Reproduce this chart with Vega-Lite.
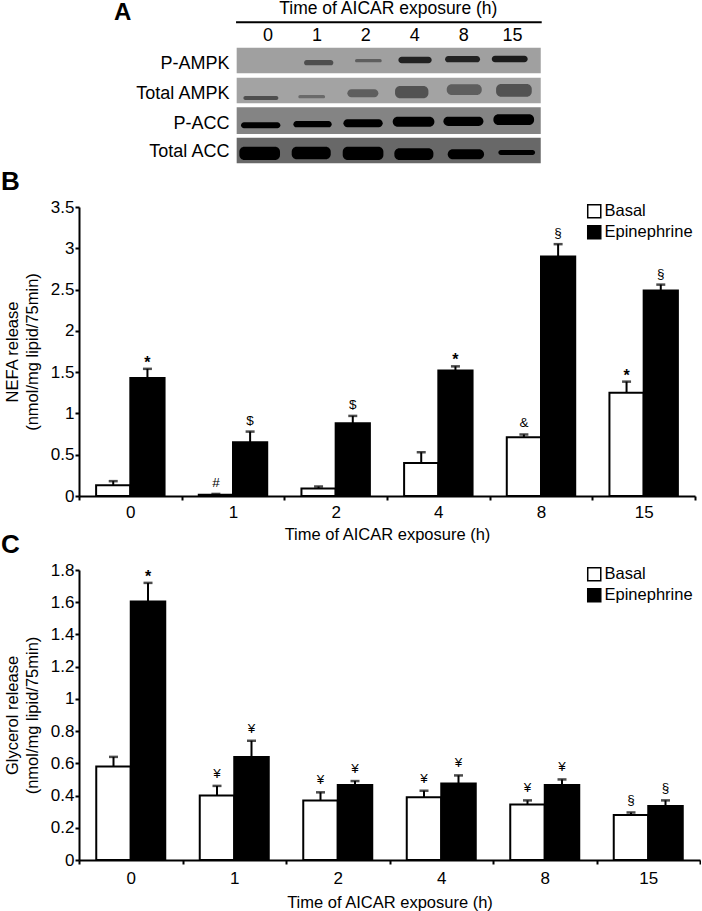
{"$schema":"https://vega.github.io/schema/vega-lite/v6.json","padding":{"left":1,"top":0,"right":0,"bottom":0},"bounds":"flush","spacing":42,
"config":{"view":{"stroke":null},"font":"Liberation Sans","axis":{"grid":false,"domainColor":"black","tickColor":"black","labelColor":"black","titleColor":"black","domainWidth":2,"tickWidth":2,"tickSize":4,"labelFont":"Liberation Sans","titleFont":"Liberation Sans","labelFontSize":17,"titleFontSize":16.5,"titleFontWeight":"normal","titleLineHeight":20,"labelOverlap":false},"legend":{"labelFont":"Liberation Sans","labelFontSize":16.5,"labelColor":"black"},"title":{"font":"Liberation Sans","fontSize":26,"fontWeight":"bold","color":"black"}},
"datasets":{
"strips":[{"row":"P-AMPK","x0":-0.641,"x1":5.576,"y0":143,"y1":220,"density":0.34},{"row":"Total AMPK","x0":-0.641,"x1":5.576,"y0":233,"y1":310,"density":0.33},{"row":"P-ACC","x0":-0.641,"x1":5.576,"y0":322,"y1":402,"density":0.45},{"row":"Total ACC","x0":-0.641,"x1":5.576,"y0":413,"y1":490,"density":0.56}],
"bands":[
{"row":"P-AMPK","lane":1,"x0":0.736,"x1":1.336,"y0":180,"y1":196,"density":0.67},
{"row":"P-AMPK","lane":2,"x0":1.779,"x1":2.324,"y0":177,"y1":187,"density":0.6},
{"row":"P-AMPK","lane":4,"x0":2.665,"x1":3.347,"y0":170,"y1":190,"density":0.87},
{"row":"P-AMPK","lane":8,"x0":3.62,"x1":4.335,"y0":168,"y1":187,"density":0.87},
{"row":"P-AMPK","lane":15,"x0":4.574,"x1":5.31,"y0":167,"y1":187,"density":0.9},
{"row":"Total AMPK","lane":0,"x0":-0.504,"x1":0.211,"y0":288,"y1":300,"density":0.67},
{"row":"Total AMPK","lane":1,"x0":0.62,"x1":1.166,"y0":285,"y1":295,"density":0.55},
{"row":"Total AMPK","lane":2,"x0":1.622,"x1":2.256,"y0":268,"y1":292,"density":0.6},
{"row":"Total AMPK","lane":4,"x0":2.597,"x1":3.279,"y0":258,"y1":295,"density":0.65},
{"row":"Total AMPK","lane":8,"x0":3.654,"x1":4.37,"y0":253,"y1":285,"density":0.6},
{"row":"Total AMPK","lane":15,"x0":4.663,"x1":5.392,"y0":252,"y1":290,"density":0.65},
{"row":"P-ACC","lane":0,"x0":-0.552,"x1":0.252,"y0":367,"y1":385,"density":1},
{"row":"P-ACC","lane":1,"x0":0.518,"x1":1.302,"y0":363,"y1":382,"density":1},
{"row":"P-ACC","lane":2,"x0":1.541,"x1":2.345,"y0":358,"y1":382,"density":1},
{"row":"P-ACC","lane":4,"x0":2.549,"x1":3.402,"y0":350,"y1":380,"density":1},
{"row":"P-ACC","lane":8,"x0":3.586,"x1":4.404,"y0":350,"y1":378,"density":1},
{"row":"P-ACC","lane":15,"x0":4.608,"x1":5.44,"y0":343,"y1":375,"density":1},
{"row":"Total ACC","lane":0,"x0":-0.586,"x1":0.245,"y0":440,"y1":480,"density":1},
{"row":"Total ACC","lane":1,"x0":0.484,"x1":1.282,"y0":440,"y1":478,"density":1},
{"row":"Total ACC","lane":2,"x0":1.527,"x1":2.359,"y0":440,"y1":480,"density":1},
{"row":"Total ACC","lane":4,"x0":2.583,"x1":3.381,"y0":445,"y1":480,"density":1},
{"row":"Total ACC","lane":8,"x0":3.674,"x1":4.417,"y0":448,"y1":478,"density":1},
{"row":"Total ACC","lane":15,"x0":4.71,"x1":5.46,"y0":450,"y1":465,"density":1}],
"laneLabels":[{"x":0,"y":108,"t":"0"},{"x":1,"y":108,"t":"1"},{"x":2,"y":108,"t":"2"},{"x":3,"y":108,"t":"4"},{"x":4,"y":108,"t":"8"},{"x":5,"y":108,"t":"15"}],
"headerTitle":[{"x":2.46,"y":28,"t":"Time of AICAR exposure (h)"}],
"rowLabels":[{"x":-0.79,"y":193,"t":"P-AMPK"},{"x":-0.79,"y":283,"t":"Total AMPK"},{"x":-0.79,"y":373,"t":"P-ACC"},{"x":-0.79,"y":455,"t":"Total ACC"}],
"header":[{"x0":-0.654,"x1":5.596,"y":67}],
"letter":[{"x":-2.97,"y":38,"t":"A"}],
"nefa":[
{"time":"0","group":"Basal","value":0.13,"hi":0.18},{"time":"0","group":"Epinephrine","value":1.43,"hi":1.54,"mark":"*"},
{"time":"1","group":"Basal","value":0.015,"hi":0.025,"mark":"#"},{"time":"1","group":"Epinephrine","value":0.65,"hi":0.78,"mark":"$"},
{"time":"2","group":"Basal","value":0.09,"hi":0.115},{"time":"2","group":"Epinephrine","value":0.88,"hi":0.97,"mark":"$"},
{"time":"4","group":"Basal","value":0.4,"hi":0.53},{"time":"4","group":"Epinephrine","value":1.52,"hi":1.57,"mark":"*"},
{"time":"8","group":"Basal","value":0.71,"hi":0.745,"mark":"&"},{"time":"8","group":"Epinephrine","value":2.9,"hi":3.05,"mark":"§"},
{"time":"15","group":"Basal","value":1.25,"hi":1.385,"mark":"*"},{"time":"15","group":"Epinephrine","value":2.49,"hi":2.56,"mark":"§"}],
"glycerol":[
{"time":"0","group":"Basal","value":0.58,"hi":0.64},{"time":"0","group":"Epinephrine","value":1.605,"hi":1.72,"mark":"*"},
{"time":"1","group":"Basal","value":0.4,"hi":0.46,"mark":"¥"},{"time":"1","group":"Epinephrine","value":0.64,"hi":0.74,"mark":"¥"},
{"time":"2","group":"Basal","value":0.37,"hi":0.42,"mark":"¥"},{"time":"2","group":"Epinephrine","value":0.465,"hi":0.49,"mark":"¥"},
{"time":"4","group":"Basal","value":0.39,"hi":0.43,"mark":"¥"},{"time":"4","group":"Epinephrine","value":0.475,"hi":0.525,"mark":"¥"},
{"time":"8","group":"Basal","value":0.345,"hi":0.37,"mark":"¥"},{"time":"8","group":"Epinephrine","value":0.465,"hi":0.5,"mark":"¥"},
{"time":"15","group":"Basal","value":0.28,"hi":0.295,"mark":"§"},{"time":"15","group":"Epinephrine","value":0.335,"hi":0.37,"mark":"§"}]
},
"vconcat":[
{"width":616,"height":165,
"layer":[
{"data":{"name":"strips"},"mark":{"type":"rect"},"encoding":{
"x":{"field":"x0","type":"quantitative","scale":{"domain":[-3.865,8.73],"nice":false,"zero":false},"axis":null},"x2":{"field":"x1"},
"y":{"field":"y0","type":"quantitative","scale":{"domain":[495,0],"nice":false,"zero":false},"axis":null},"y2":{"field":"y1"},
"fill":{"field":"density","type":"quantitative","scale":{"domain":[0,1],"range":["#ffffff","#000000"]},"legend":null}}},
{"data":{"name":"bands"},"mark":{"type":"rect","cornerRadius":5},"encoding":{
"x":{"field":"x0","type":"quantitative"},"x2":{"field":"x1"},
"y":{"field":"y0","type":"quantitative"},"y2":{"field":"y1"},
"fill":{"field":"density","type":"quantitative","scale":{"domain":[0,1],"range":["#ffffff","#000000"]},"legend":null}}},
{"data":{"name":"header"},"mark":{"type":"rule","color":"black","strokeWidth":2},"encoding":{"x":{"field":"x0","type":"quantitative"},"x2":{"field":"x1"},"y":{"field":"y","type":"quantitative"}}},
{"data":{"name":"laneLabels"},"mark":{"type":"text","fontSize":18,"color":"black"},"encoding":{"x":{"field":"x","type":"quantitative"},"y":{"field":"y","type":"quantitative"},"text":{"field":"t"}}},
{"data":{"name":"headerTitle"},"mark":{"type":"text","fontSize":17.5,"color":"black"},"encoding":{"x":{"field":"x","type":"quantitative"},"y":{"field":"y","type":"quantitative"},"text":{"field":"t"}}},
{"data":{"name":"rowLabels"},"mark":{"type":"text","fontSize":18,"color":"black","align":"right"},"encoding":{"x":{"field":"x","type":"quantitative"},"y":{"field":"y","type":"quantitative"},"text":{"field":"t"}}},
{"data":{"name":"letter"},"mark":{"type":"text","fontSize":24,"fontWeight":"bold","color":"black"},"encoding":{"x":{"field":"x","type":"quantitative"},"y":{"field":"y","type":"quantitative"},"text":{"field":"t"}}}
]},
{"vconcat":[
{"width":616,"height":289,"title":{"text":"B","anchor":"start","frame":"group","dx":-78,"offset":3},
"data":{"name":"nefa"},
"encoding":{
"x":{"field":"time","type":"nominal","sort":["0","1","2","4","8","15"],"scale":{"paddingInner":0,"paddingOuter":0},"axis":{"title":"Time of AICAR exposure (h)","labelAngle":0,"tickBand":"extent","labelPadding":4,"titlePadding":6,"orient":"bottom"}},
"xOffset":{"field":"group","type":"nominal","sort":["Basal","Epinephrine"],"scale":{"paddingInner":0,"paddingOuter":0.5}}},
"layer":[
{"mark":{"type":"rule","color":"black","strokeWidth":2},"encoding":{"y":{"field":"value","type":"quantitative","scale":{"domain":[0,3.5],"nice":false},"axis":{"title":["NEFA release","(nmol/mg lipid/75min)"],"values":[0,0.5,1,1.5,2,2.5,3,3.5],"format":"~g","titlePadding":10,"labelPadding":1}},"y2":{"field":"hi"}}},
{"mark":{"type":"tick","color":"black","thickness":2.5,"size":9,"orient":"horizontal"},"encoding":{"y":{"field":"hi","type":"quantitative","axis":{"title":["NEFA release","(nmol/mg lipid/75min)"],"values":[0,0.5,1,1.5,2,2.5,3,3.5],"format":"~g","titlePadding":10,"labelPadding":1}}}},
{"mark":{"type":"bar","stroke":"black","strokeWidth":2},"encoding":{
"y":{"field":"value","type":"quantitative","axis":{"title":["NEFA release","(nmol/mg lipid/75min)"],"values":[0,0.5,1,1.5,2,2.5,3,3.5],"format":"~g","titlePadding":10,"labelPadding":1}},
"fill":{"field":"group","type":"nominal","scale":{"domain":["Basal","Epinephrine"],"range":["#ffffff","#000000"]},"legend":{"title":null,"orient":"none","legendX":507,"legendY":-4,"symbolType":"square","symbolSize":170,"symbolStrokeColor":"black","symbolStrokeWidth":1.5,"rowPadding":1,"labelOffset":2}}}},
{"transform":[{"filter":"datum.mark && datum.mark !== '*'"}],"mark":{"type":"text","fontSize":13.5,"color":"black","dy":-11},"encoding":{"y":{"field":"hi","type":"quantitative","axis":{"title":["NEFA release","(nmol/mg lipid/75min)"],"values":[0,0.5,1,1.5,2,2.5,3,3.5],"format":"~g","titlePadding":10,"labelPadding":1}},"text":{"field":"mark"}}},
{"transform":[{"filter":"datum.mark === '*'"}],"mark":{"type":"text","fontSize":16,"fontWeight":"bold","color":"black","dy":-6},"encoding":{"y":{"field":"hi","type":"quantitative","axis":{"title":["NEFA release","(nmol/mg lipid/75min)"],"values":[0,0.5,1,1.5,2,2.5,3,3.5],"format":"~g","titlePadding":10,"labelPadding":1}},"text":{"field":"mark"}}}
]},
{"width":621,"height":290,"title":{"text":"C","anchor":"start","frame":"group","dx":-78,"offset":3},
"data":{"name":"glycerol"},
"encoding":{
"x":{"field":"time","type":"nominal","sort":["0","1","2","4","8","15"],"scale":{"paddingInner":0,"paddingOuter":0},"axis":{"title":"Time of AICAR exposure (h)","labelAngle":0,"tickBand":"extent","labelPadding":6,"titlePadding":8,"orient":"bottom"}},
"xOffset":{"field":"group","type":"nominal","sort":["Basal","Epinephrine"],"scale":{"paddingInner":0,"paddingOuter":0.5}}},
"layer":[
{"mark":{"type":"rule","color":"black","strokeWidth":2},"encoding":{"y":{"field":"value","type":"quantitative","scale":{"domain":[0,1.8],"nice":false},"axis":{"title":["Glycerol release","(nmol/mg lipid/75min)"],"values":[0,0.2,0.4,0.6,0.8,1,1.2,1.4,1.6,1.8],"format":"~g","titlePadding":10,"labelPadding":1}},"y2":{"field":"hi"}}},
{"mark":{"type":"tick","color":"black","thickness":2.5,"size":9,"orient":"horizontal"},"encoding":{"y":{"field":"hi","type":"quantitative","axis":{"title":["Glycerol release","(nmol/mg lipid/75min)"],"values":[0,0.2,0.4,0.6,0.8,1,1.2,1.4,1.6,1.8],"format":"~g","titlePadding":10,"labelPadding":1}}}},
{"mark":{"type":"bar","stroke":"black","strokeWidth":2},"encoding":{
"y":{"field":"value","type":"quantitative","axis":{"title":["Glycerol release","(nmol/mg lipid/75min)"],"values":[0,0.2,0.4,0.6,0.8,1,1.2,1.4,1.6,1.8],"format":"~g","titlePadding":10,"labelPadding":1}},
"fill":{"field":"group","type":"nominal","scale":{"domain":["Basal","Epinephrine"],"range":["#ffffff","#000000"]},"legend":{"title":null,"orient":"none","legendX":507,"legendY":-4,"symbolType":"square","symbolSize":170,"symbolStrokeColor":"black","symbolStrokeWidth":1.5,"rowPadding":1,"labelOffset":2}}}},
{"transform":[{"filter":"datum.mark && datum.mark !== '*'"}],"mark":{"type":"text","fontSize":13.5,"color":"black","dy":-12},"encoding":{"y":{"field":"hi","type":"quantitative","axis":{"title":["Glycerol release","(nmol/mg lipid/75min)"],"values":[0,0.2,0.4,0.6,0.8,1,1.2,1.4,1.6,1.8],"format":"~g","titlePadding":10,"labelPadding":1}},"text":{"field":"mark"}}},
{"transform":[{"filter":"datum.mark === '*'"}],"mark":{"type":"text","fontSize":16,"fontWeight":"bold","color":"black","dy":-6},"encoding":{"y":{"field":"hi","type":"quantitative","axis":{"title":["Glycerol release","(nmol/mg lipid/75min)"],"values":[0,0.2,0.4,0.6,0.8,1,1.2,1.4,1.6,1.8],"format":"~g","titlePadding":10,"labelPadding":1}},"text":{"field":"mark"}}}
]}
],"spacing":74,"bounds":"flush","resolve":{"scale":{"x":"independent","y":"independent","xOffset":"independent","fill":"shared"},"legend":{"fill":"independent"}}}
],
"resolve":{"scale":{"fill":"independent"},"legend":{"fill":"independent"}}
}
